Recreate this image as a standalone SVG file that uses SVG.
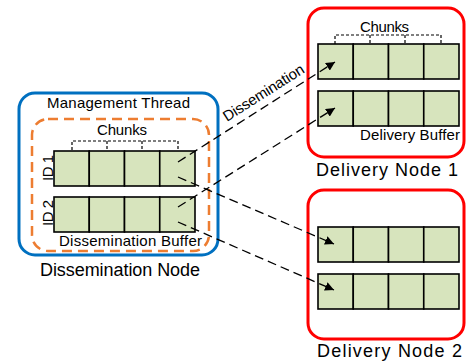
<svg xmlns="http://www.w3.org/2000/svg" width="466" height="362" viewBox="0 0 466 362">
<style>
  text { font-family: "Liberation Sans", Arial, sans-serif; fill: #000; }
  .s { font-size: 15px; }
  .l { font-size: 18px; }
  .cell { fill: #D7E4BD; stroke: #000; stroke-width: 1.6; }
  .brk { fill: none; stroke: #000; stroke-width: 1.2; stroke-dasharray: 3 2; }
  .red { fill: #fff; stroke: #FF0000; stroke-width: 3; }
  .conn { fill: none; stroke: #000; stroke-width: 1.3; stroke-dasharray: 9 5; }
</style>
<defs>
  <marker id="ah" viewBox="0 0 10 10" refX="10" refY="5" markerWidth="9" markerHeight="9" markerUnits="userSpaceOnUse" orient="auto">
    <path d="M0,0 L10,5 L0,10 Z" fill="#000"/>
  </marker>
  <g id="row">
    <rect class="cell" x="0" y="0" width="35.25" height="35"/>
    <rect class="cell" x="35.25" y="0" width="35.25" height="35"/>
    <rect class="cell" x="70.5" y="0" width="35.25" height="35"/>
    <rect class="cell" x="105.75" y="0" width="35.25" height="35"/>
  </g>
</defs>
<rect width="466" height="362" fill="#fff"/>

<g id="dissemination-node">
  <rect x="19" y="93" width="199" height="162" rx="16" fill="#fff" stroke="#0070C0" stroke-width="3"/>
  <text class="s" x="47" y="108" textLength="143">Management Thread</text>
  <rect x="32" y="119" width="177" height="132" rx="16" fill="none" stroke="#ED7D31" stroke-width="2.5" stroke-dasharray="10 6"/>
  <text class="s" x="97" y="135" textLength="50">Chunks</text>
  <path class="brk" d="M72,150 V141 H178 V150 M107,141 V150 M142,141 V150"/>
  <use href="#row" x="54" y="151"/>
  <use href="#row" x="54" y="197"/>
  <text class="s" transform="translate(53,181) rotate(-90)" textLength="26">ID 1</text>
  <text class="s" transform="translate(53,226) rotate(-90)" textLength="26">ID 2</text>
  <text class="s" x="59" y="246" textLength="143">Dissemination Buffer</text>
  <text class="l" x="40" y="276" textLength="160">Dissemination Node</text>
</g>

<g id="delivery-node-1">
  <rect class="red" x="308" y="8" width="156" height="149" rx="16"/>
  <text class="s" x="360" y="32" textLength="49">Chunks</text>
  <path class="brk" d="M335,44 V35 H441 V44 M370,35 V44 M405,35 V44"/>
  <use href="#row" x="318" y="44"/>
  <use href="#row" x="318" y="91"/>
  <text class="s" x="360" y="140" textLength="100">Delivery Buffer</text>
  <text class="l" x="316" y="176" textLength="142">Delivery Node 1</text>
</g>

<g id="delivery-node-2">
  <rect class="red" x="308" y="190" width="156" height="149" rx="16"/>
  <use href="#row" x="318" y="227"/>
  <use href="#row" x="318" y="274"/>
  <text class="l" x="317" y="357" textLength="145">Delivery Node 2</text>
</g>

<g id="connectors">
  <line class="conn" x1="178" y1="162" x2="335" y2="62" marker-end="url(#ah)"/>
  <line class="conn" x1="178" y1="207" x2="335" y2="108" marker-end="url(#ah)"/>
  <line class="conn" x1="178" y1="177" x2="334" y2="244" marker-end="url(#ah)"/>
  <line class="conn" x1="178" y1="222" x2="334" y2="290" marker-end="url(#ah)"/>
  <text class="s" transform="translate(227,122) rotate(-32.5)" textLength="93">Dissemination</text>
</g>
</svg>
